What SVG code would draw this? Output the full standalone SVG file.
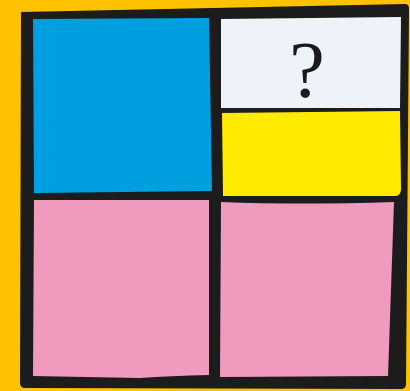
<svg xmlns="http://www.w3.org/2000/svg" width="410" height="391" viewBox="0 0 410 391">
<style>
.cell{stroke:none}
.q{font-family:"Liberation Serif","Times New Roman",serif;font-size:80px;fill:#1a1a1a;text-anchor:middle}
</style>
<rect width="410" height="391" fill="#FFC200"/>
<g id="frame">
<path d="M21,12 L405,4 Q409,4 409,9 L406,384 Q406,389 401,389 L25,388 Q20,388 20,383 Z" fill="#1c1c1c"/>
</g>
<g id="blue"><path class="cell" d="M33,19 L209,18 L212,191 L34,193 Z" fill="#00A0E0"/></g>
<g id="white"><path class="cell" d="M221,19 L401,17 L400,108 L221,108 Z" fill="#EEF3FA"/>
<text class="q" x="307" y="97">?</text></g>
<g id="yellow"><path class="cell" d="M222,113 L400,111 L401,190 Q400,196 395,196 L223,196 Z" fill="#FFEB00"/></g>
<g id="pink-left"><path class="cell" d="M34,200 L209,200 L209,375 Q170,376 140,378 L33,376 Z" fill="#F09BBE"/></g>
<g id="pink-right"><path class="cell" d="M221,202 Q300,205 394,202 L388,376 L220,377 Z" fill="#F09BBE"/></g>
</svg>
